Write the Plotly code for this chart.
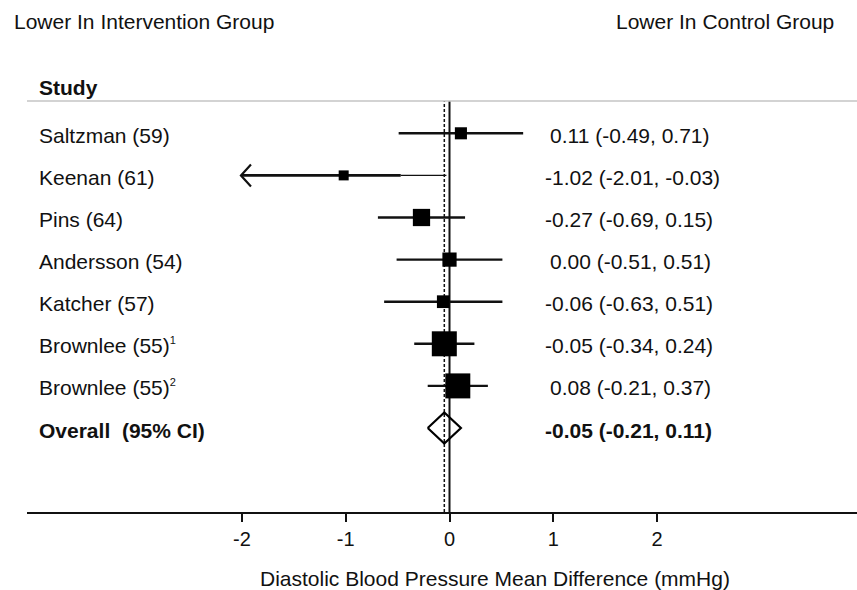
import plotly.graph_objects as go

# Study-level results: mean difference in diastolic BP (mmHg) with 95% CI
SUP = "<sup><span style='font-size:11px'>{}</span></sup>"
studies = ["Saltzman (59)", "Keenan (61)", "Pins (64)", "Andersson (54)",
           "Katcher (57)", "Brownlee (55)" + SUP.format(1), "Brownlee (55)" + SUP.format(2)]
estimate = [0.11, -1.02, -0.27, 0.00, -0.06, -0.05, 0.08]
ci_low = [-0.49, -2.01, -0.69, -0.51, -0.63, -0.34, -0.21]
ci_high = [0.71, -0.03, 0.15, 0.51, 0.51, 0.24, 0.37]

# Pooled estimate
overall_label = "Overall\u00a0 (95% CI)"
overall_est = -0.05
overall_low = -0.21
overall_high = 0.11

tick_vals = [-2, -1, 0, 1, 2]
tick_text = ["-2", "-1", "0", "1", "2"]

# Keenan's interval is drawn with a thinner stroke from this point to its upper bound
keenan_thin_from = -0.47

# ---- layout geometry (pixels) ----
W, H = 857, 590
PL, PR, PT, PB = 27, 857, 101, 512
X_PER_UNIT = 103.75
X_ZERO_PX = 449.5
ROW0_PX = 133.3
ROW_PX = 42.1
FONT = "Liberation Sans, Arial, sans-serif"
INK = "#111111"


def xp(px):
    return (px - PL) / (PR - PL)


def yp(py):
    return (PB - py) / (PB - PT)


x_range = [(PL - X_ZERO_PX) / X_PER_UNIT, (PR - X_ZERO_PX) / X_PER_UNIT]
y_range = [(PB - ROW0_PX) / ROW_PX, (PT - ROW0_PX) / ROW_PX]

fig = go.Figure()

rows = list(range(len(studies)))
overall_row = len(studies)

# confidence-interval lines
for i, (lo, hi) in enumerate(zip(ci_low, ci_high)):
    if studies[i].startswith("Keenan"):
        fig.add_trace(go.Scatter(x=[lo, keenan_thin_from], y=[i, i], mode="lines",
                                 line=dict(color=INK, width=2.6), hoverinfo="skip"))
        fig.add_trace(go.Scatter(x=[keenan_thin_from, hi], y=[i, i], mode="lines",
                                 line=dict(color=INK, width=1.3), hoverinfo="skip"))
        # open arrow head at the lower bound
        dx = 10 / X_PER_UNIT
        dy = 11 / ROW_PX
        fig.add_trace(go.Scatter(x=[lo + dx, lo, lo + dx], y=[i - dy, i, i + dy],
                                 mode="lines", line=dict(color=INK, width=2.2),
                                 hoverinfo="skip"))
    else:
        fig.add_trace(go.Scatter(x=[lo, hi], y=[i, i], mode="lines",
                                 line=dict(color=INK, width=2.4), hoverinfo="skip"))

# squares sized by inverse standard error
sizes = []
for lo, hi in zip(ci_low, ci_high):
    se = (hi - lo) / (2 * 1.96)
    sizes.append(max(10, 3.7 / se))

fig.add_trace(go.Scatter(x=estimate, y=rows, mode="markers",
                         marker=dict(symbol="square", size=sizes, color="black",
                                     opacity=1, line=dict(width=0)),
                         hoverinfo="skip"))

# pooled diamond
dh = 15.5 / ROW_PX
fig.add_trace(go.Scatter(
    x=[overall_low, overall_est, overall_high, overall_est, overall_low],
    y=[overall_row, overall_row - dh, overall_row, overall_row + dh, overall_row],
    mode="lines", line=dict(color="black", width=2.2), hoverinfo="skip"))

shapes = [
    # line of no effect
    dict(type="line", xref="x", yref="paper", x0=0, x1=0, y0=0, y1=1,
         line=dict(color=INK, width=2), layer="below"),
    # pooled estimate
    dict(type="line", xref="x", yref="paper", x0=overall_est, x1=overall_est, y0=0, y1=1,
         line=dict(color=INK, width=1.5, dash="3px,2px"), layer="below"),
    # header rule
    dict(type="line", xref="paper", yref="paper", x0=0, x1=1, y0=1, y1=1,
         line=dict(color="#c4c4c4", width=1.6)),
]

annotations = []


def add_text(text, x, y, xanchor="left", xref="paper", yref="paper", size=21,
             xshift=0, yshift=0):
    annotations.append(dict(text=text, x=x, y=y, xref=xref, yref=yref,
                            xanchor=xanchor, yanchor="middle", showarrow=False,
                            xshift=xshift, yshift=yshift,
                            font=dict(family=FONT, size=size, color=INK)))


add_text("Lower In Intervention Group", xp(12), yp(22))
add_text("Lower In Control Group", xp(836), yp(22), xanchor="right")
add_text("<b>Study</b>", xp(37), yp(87))

for i, name in enumerate(studies):
    add_text(name, xp(37), i, yref="y", yshift=-2)
    s = f"{estimate[i]:.2f} ({ci_low[i]:.2f}, {ci_high[i]:.2f})"
    add_text(s, xp(548), i, yref="y", yshift=-2,
             xshift=-5 if s.startswith("-") else 0)

add_text(f"<b>{overall_label}</b>", xp(37), overall_row, yref="y", yshift=-2)
s = f"{overall_est:.2f} ({overall_low:.2f}, {overall_high:.2f})"
add_text(f"<b>{s}</b>", xp(548), overall_row, yref="y", yshift=-2,
         xshift=-5 if s.startswith("-") else 0)

add_text("Diastolic Blood Pressure Mean Difference (mmHg)", xp(495), yp(578),
         xanchor="center")

fig.update_layout(
    width=W, height=H,
    margin=dict(l=PL, r=W - PR, t=PT, b=H - PB, pad=0),
    paper_bgcolor="white", plot_bgcolor="white",
    showlegend=False,
    shapes=shapes, annotations=annotations,
    xaxis=dict(range=x_range, tickvals=tick_vals, ticktext=tick_text,
               ticks="outside", ticklen=8, tickwidth=1.5, tickcolor=INK,
               showline=True, linewidth=2, linecolor=INK,
               showgrid=False, zeroline=False, fixedrange=True,
               tickfont=dict(family=FONT, size=20, color=INK)),
    yaxis=dict(range=y_range, visible=False, fixedrange=True),
)

fig.write_html("out.html")
